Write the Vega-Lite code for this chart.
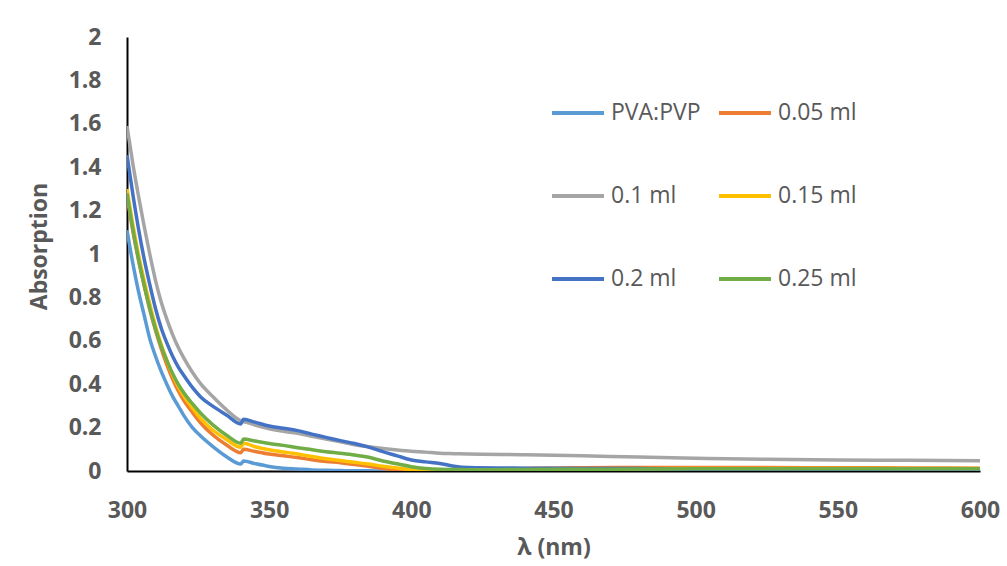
{
  "$schema": "https://vega.github.io/schema/vega-lite/v6.json",
  "width": 853,
  "height": 434,
  "autosize": {"type": "none"},
  "padding": {"left": 127, "top": 37, "right": 27, "bottom": 95},
  "background": "white",
  "config": {"view": {"stroke": null}, "font": "Open Sans"},
  "data": {"values": [
{"s":"PVA:PVP","x":300,"y":1.11},{"s":"PVA:PVP","x":302,"y":0.96},{"s":"PVA:PVP","x":304,"y":0.83},{"s":"PVA:PVP","x":306,"y":0.72},{"s":"PVA:PVP","x":308,"y":0.61},{"s":"PVA:PVP","x":310,"y":0.53},{"s":"PVA:PVP","x":312,"y":0.46},{"s":"PVA:PVP","x":314,"y":0.40},{"s":"PVA:PVP","x":316,"y":0.345},{"s":"PVA:PVP","x":318,"y":0.30},{"s":"PVA:PVP","x":320,"y":0.255},{"s":"PVA:PVP","x":323,"y":0.20},{"s":"PVA:PVP","x":326,"y":0.16},{"s":"PVA:PVP","x":330,"y":0.115},{"s":"PVA:PVP","x":335,"y":0.066},{"s":"PVA:PVP","x":340,"y":0.032},{"s":"PVA:PVP","x":341,"y":0.046},{"s":"PVA:PVP","x":345,"y":0.034},{"s":"PVA:PVP","x":350,"y":0.021},{"s":"PVA:PVP","x":355,"y":0.013},{"s":"PVA:PVP","x":360,"y":0.009},{"s":"PVA:PVP","x":365,"y":0.005},{"s":"PVA:PVP","x":370,"y":0.003},{"s":"PVA:PVP","x":375,"y":0.002},{"s":"PVA:PVP","x":380,"y":0.001},{"s":"PVA:PVP","x":385,"y":0.001},{"s":"PVA:PVP","x":390,"y":0},{"s":"PVA:PVP","x":395,"y":0},{"s":"PVA:PVP","x":400,"y":0},{"s":"PVA:PVP","x":405,"y":0},{"s":"PVA:PVP","x":410,"y":0},{"s":"PVA:PVP","x":415,"y":0.001},{"s":"PVA:PVP","x":420,"y":0.001},{"s":"PVA:PVP","x":440,"y":0.002},{"s":"PVA:PVP","x":460,"y":0.003},{"s":"PVA:PVP","x":480,"y":0.004},{"s":"PVA:PVP","x":500,"y":0.005},{"s":"PVA:PVP","x":525,"y":0.006},{"s":"PVA:PVP","x":550,"y":0.007},{"s":"PVA:PVP","x":575,"y":0.007},{"s":"PVA:PVP","x":600,"y":0.008},
{"s":"0.05 ml","x":300,"y":1.27},{"s":"0.05 ml","x":302,"y":1.11},{"s":"0.05 ml","x":304,"y":0.975},{"s":"0.05 ml","x":306,"y":0.855},{"s":"0.05 ml","x":308,"y":0.745},{"s":"0.05 ml","x":310,"y":0.65},{"s":"0.05 ml","x":312,"y":0.565},{"s":"0.05 ml","x":314,"y":0.49},{"s":"0.05 ml","x":316,"y":0.425},{"s":"0.05 ml","x":318,"y":0.37},{"s":"0.05 ml","x":320,"y":0.325},{"s":"0.05 ml","x":323,"y":0.27},{"s":"0.05 ml","x":326,"y":0.22},{"s":"0.05 ml","x":330,"y":0.168},{"s":"0.05 ml","x":335,"y":0.12},{"s":"0.05 ml","x":340,"y":0.084},{"s":"0.05 ml","x":341,"y":0.10},{"s":"0.05 ml","x":345,"y":0.09},{"s":"0.05 ml","x":350,"y":0.078},{"s":"0.05 ml","x":355,"y":0.07},{"s":"0.05 ml","x":360,"y":0.062},{"s":"0.05 ml","x":365,"y":0.052},{"s":"0.05 ml","x":370,"y":0.044},{"s":"0.05 ml","x":375,"y":0.038},{"s":"0.05 ml","x":380,"y":0.03},{"s":"0.05 ml","x":385,"y":0.022},{"s":"0.05 ml","x":390,"y":0.012},{"s":"0.05 ml","x":395,"y":0.006},{"s":"0.05 ml","x":400,"y":0.002},{"s":"0.05 ml","x":405,"y":0.001},{"s":"0.05 ml","x":410,"y":0.001},{"s":"0.05 ml","x":415,"y":0.002},{"s":"0.05 ml","x":420,"y":0.004},{"s":"0.05 ml","x":440,"y":0.012},{"s":"0.05 ml","x":460,"y":0.015},{"s":"0.05 ml","x":480,"y":0.016},{"s":"0.05 ml","x":500,"y":0.016},{"s":"0.05 ml","x":525,"y":0.016},{"s":"0.05 ml","x":550,"y":0.015},{"s":"0.05 ml","x":575,"y":0.014},{"s":"0.05 ml","x":600,"y":0.013},
{"s":"0.1 ml","x":300,"y":1.59},{"s":"0.1 ml","x":302,"y":1.42},{"s":"0.1 ml","x":304,"y":1.27},{"s":"0.1 ml","x":306,"y":1.13},{"s":"0.1 ml","x":308,"y":1.00},{"s":"0.1 ml","x":310,"y":0.88},{"s":"0.1 ml","x":312,"y":0.78},{"s":"0.1 ml","x":314,"y":0.70},{"s":"0.1 ml","x":316,"y":0.63},{"s":"0.1 ml","x":318,"y":0.57},{"s":"0.1 ml","x":320,"y":0.52},{"s":"0.1 ml","x":323,"y":0.455},{"s":"0.1 ml","x":326,"y":0.40},{"s":"0.1 ml","x":330,"y":0.345},{"s":"0.1 ml","x":335,"y":0.282},{"s":"0.1 ml","x":340,"y":0.232},{"s":"0.1 ml","x":341,"y":0.228},{"s":"0.1 ml","x":345,"y":0.212},{"s":"0.1 ml","x":350,"y":0.195},{"s":"0.1 ml","x":355,"y":0.183},{"s":"0.1 ml","x":360,"y":0.174},{"s":"0.1 ml","x":365,"y":0.16},{"s":"0.1 ml","x":370,"y":0.147},{"s":"0.1 ml","x":375,"y":0.135},{"s":"0.1 ml","x":380,"y":0.121},{"s":"0.1 ml","x":385,"y":0.112},{"s":"0.1 ml","x":390,"y":0.104},{"s":"0.1 ml","x":395,"y":0.097},{"s":"0.1 ml","x":400,"y":0.091},{"s":"0.1 ml","x":405,"y":0.087},{"s":"0.1 ml","x":410,"y":0.082},{"s":"0.1 ml","x":415,"y":0.08},{"s":"0.1 ml","x":420,"y":0.078},{"s":"0.1 ml","x":440,"y":0.075},{"s":"0.1 ml","x":460,"y":0.07},{"s":"0.1 ml","x":480,"y":0.064},{"s":"0.1 ml","x":500,"y":0.059},{"s":"0.1 ml","x":525,"y":0.054},{"s":"0.1 ml","x":550,"y":0.051},{"s":"0.1 ml","x":575,"y":0.049},{"s":"0.1 ml","x":600,"y":0.047},
{"s":"0.15 ml","x":300,"y":1.30},{"s":"0.15 ml","x":302,"y":1.14},{"s":"0.15 ml","x":304,"y":1.0},{"s":"0.15 ml","x":306,"y":0.88},{"s":"0.15 ml","x":308,"y":0.77},{"s":"0.15 ml","x":310,"y":0.67},{"s":"0.15 ml","x":312,"y":0.585},{"s":"0.15 ml","x":314,"y":0.51},{"s":"0.15 ml","x":316,"y":0.445},{"s":"0.15 ml","x":318,"y":0.39},{"s":"0.15 ml","x":320,"y":0.345},{"s":"0.15 ml","x":323,"y":0.29},{"s":"0.15 ml","x":326,"y":0.24},{"s":"0.15 ml","x":330,"y":0.19},{"s":"0.15 ml","x":335,"y":0.145},{"s":"0.15 ml","x":340,"y":0.11},{"s":"0.15 ml","x":341,"y":0.128},{"s":"0.15 ml","x":345,"y":0.112},{"s":"0.15 ml","x":350,"y":0.098},{"s":"0.15 ml","x":355,"y":0.088},{"s":"0.15 ml","x":360,"y":0.078},{"s":"0.15 ml","x":365,"y":0.067},{"s":"0.15 ml","x":370,"y":0.056},{"s":"0.15 ml","x":375,"y":0.048},{"s":"0.15 ml","x":380,"y":0.04},{"s":"0.15 ml","x":385,"y":0.032},{"s":"0.15 ml","x":390,"y":0.022},{"s":"0.15 ml","x":395,"y":0.014},{"s":"0.15 ml","x":400,"y":0.006},{"s":"0.15 ml","x":405,"y":0.002},{"s":"0.15 ml","x":410,"y":0.001},{"s":"0.15 ml","x":415,"y":0.001},{"s":"0.15 ml","x":420,"y":0.001},{"s":"0.15 ml","x":440,"y":0.004},{"s":"0.15 ml","x":460,"y":0.008},{"s":"0.15 ml","x":480,"y":0.01},{"s":"0.15 ml","x":500,"y":0.012},{"s":"0.15 ml","x":525,"y":0.012},{"s":"0.15 ml","x":550,"y":0.012},{"s":"0.15 ml","x":575,"y":0.012},{"s":"0.15 ml","x":600,"y":0.012},
{"s":"0.2 ml","x":300,"y":1.456},{"s":"0.2 ml","x":302,"y":1.28},{"s":"0.2 ml","x":304,"y":1.12},{"s":"0.2 ml","x":306,"y":0.98},{"s":"0.2 ml","x":308,"y":0.86},{"s":"0.2 ml","x":310,"y":0.75},{"s":"0.2 ml","x":312,"y":0.66},{"s":"0.2 ml","x":314,"y":0.59},{"s":"0.2 ml","x":316,"y":0.53},{"s":"0.2 ml","x":318,"y":0.48},{"s":"0.2 ml","x":320,"y":0.44},{"s":"0.2 ml","x":323,"y":0.385},{"s":"0.2 ml","x":326,"y":0.34},{"s":"0.2 ml","x":330,"y":0.30},{"s":"0.2 ml","x":335,"y":0.258},{"s":"0.2 ml","x":340,"y":0.217},{"s":"0.2 ml","x":341,"y":0.238},{"s":"0.2 ml","x":345,"y":0.225},{"s":"0.2 ml","x":350,"y":0.207},{"s":"0.2 ml","x":355,"y":0.197},{"s":"0.2 ml","x":360,"y":0.186},{"s":"0.2 ml","x":365,"y":0.17},{"s":"0.2 ml","x":370,"y":0.155},{"s":"0.2 ml","x":375,"y":0.14},{"s":"0.2 ml","x":380,"y":0.127},{"s":"0.2 ml","x":385,"y":0.11},{"s":"0.2 ml","x":390,"y":0.089},{"s":"0.2 ml","x":395,"y":0.07},{"s":"0.2 ml","x":400,"y":0.051},{"s":"0.2 ml","x":405,"y":0.042},{"s":"0.2 ml","x":410,"y":0.035},{"s":"0.2 ml","x":415,"y":0.022},{"s":"0.2 ml","x":420,"y":0.016},{"s":"0.2 ml","x":440,"y":0.013},{"s":"0.2 ml","x":460,"y":0.012},{"s":"0.2 ml","x":480,"y":0.011},{"s":"0.2 ml","x":500,"y":0.007},{"s":"0.2 ml","x":525,"y":0.008},{"s":"0.2 ml","x":550,"y":0.008},{"s":"0.2 ml","x":575,"y":0.009},{"s":"0.2 ml","x":600,"y":0.01},
{"s":"0.25 ml","x":300,"y":1.28},{"s":"0.25 ml","x":302,"y":1.12},{"s":"0.25 ml","x":304,"y":0.98},{"s":"0.25 ml","x":306,"y":0.86},{"s":"0.25 ml","x":308,"y":0.75},{"s":"0.25 ml","x":310,"y":0.655},{"s":"0.25 ml","x":312,"y":0.575},{"s":"0.25 ml","x":314,"y":0.51},{"s":"0.25 ml","x":316,"y":0.45},{"s":"0.25 ml","x":318,"y":0.40},{"s":"0.25 ml","x":320,"y":0.36},{"s":"0.25 ml","x":323,"y":0.31},{"s":"0.25 ml","x":326,"y":0.265},{"s":"0.25 ml","x":330,"y":0.215},{"s":"0.25 ml","x":335,"y":0.165},{"s":"0.25 ml","x":340,"y":0.128},{"s":"0.25 ml","x":341,"y":0.147},{"s":"0.25 ml","x":345,"y":0.138},{"s":"0.25 ml","x":350,"y":0.127},{"s":"0.25 ml","x":355,"y":0.118},{"s":"0.25 ml","x":360,"y":0.107},{"s":"0.25 ml","x":365,"y":0.098},{"s":"0.25 ml","x":370,"y":0.089},{"s":"0.25 ml","x":375,"y":0.082},{"s":"0.25 ml","x":380,"y":0.074},{"s":"0.25 ml","x":385,"y":0.063},{"s":"0.25 ml","x":390,"y":0.046},{"s":"0.25 ml","x":395,"y":0.033},{"s":"0.25 ml","x":400,"y":0.02},{"s":"0.25 ml","x":405,"y":0.012},{"s":"0.25 ml","x":410,"y":0.008},{"s":"0.25 ml","x":415,"y":0.007},{"s":"0.25 ml","x":420,"y":0.006},{"s":"0.25 ml","x":440,"y":0.007},{"s":"0.25 ml","x":460,"y":0.008},{"s":"0.25 ml","x":480,"y":0.009},{"s":"0.25 ml","x":500,"y":0.01},{"s":"0.25 ml","x":525,"y":0.01},{"s":"0.25 ml","x":550,"y":0.01},{"s":"0.25 ml","x":575,"y":0.01},{"s":"0.25 ml","x":600,"y":0.01}
  ]},
  "mark": {"type": "line", "strokeWidth": 3.5, "interpolate": "monotone", "clip": true},
  "encoding": {
    "x": {
      "field": "x", "type": "quantitative",
      "scale": {"domain": [300, 600], "nice": false, "zero": false},
      "axis": {
        "title": "λ (nm)", "values": [300, 350, 400, 450, 500, 550, 600],
        "grid": false, "ticks": false, "domainColor": "black", "domainWidth": 2,
        "labelFont": "Open Sans", "labelFontSize": 23, "labelFontWeight": "bold", "labelColor": "#595959",
        "labelPadding": 28, "labelFlush": false,
        "titleFont": "Open Sans", "titleFontSize": 23, "titleFontWeight": "bold", "titleColor": "#595959",
        "titleY": 65, "titleBaseline": "top"
      }
    },
    "y": {
      "field": "y", "type": "quantitative",
      "scale": {"domain": [0, 2], "nice": false},
      "axis": {
        "title": "Absorption", "values": [0, 0.2, 0.4, 0.6, 0.8, 1, 1.2, 1.4, 1.6, 1.8, 2], "format": "~g",
        "grid": false, "ticks": false, "domainColor": "black", "domainWidth": 2,
        "labelFont": "Open Sans", "labelFontSize": 23, "labelFontWeight": "bold", "labelColor": "#595959",
        "labelPadding": 26, "labelFlush": false,
        "titleFont": "Open Sans", "titleFontSize": 23, "titleFontWeight": "bold", "titleColor": "#595959",
        "titleX": -76, "titleY": 209, "titleAngle": -90, "titleAlign": "center", "titleBaseline": "bottom"
      }
    },
    "color": {
      "field": "s", "type": "nominal",
      "scale": {
        "domain": ["PVA:PVP", "0.05 ml", "0.1 ml", "0.15 ml", "0.2 ml", "0.25 ml"],
        "range": ["#5B9BD5", "#ED7D31", "#A5A5A5", "#FFC000", "#4472C4", "#70AD47"]
      },
      "legend": {
        "title": null, "orient": "none", "legendX": 423, "legendY": 48,
        "columns": 2, "direction": "horizontal",
        "symbolType": "stroke", "symbolSize": 2704, "symbolStrokeWidth": 4,
        "labelFont": "Open Sans", "labelFontSize": 23, "labelColor": "#595959", "labelOffset": 5,
        "rowPadding": 43, "columnPadding": 10
      }
    }
  }
}
